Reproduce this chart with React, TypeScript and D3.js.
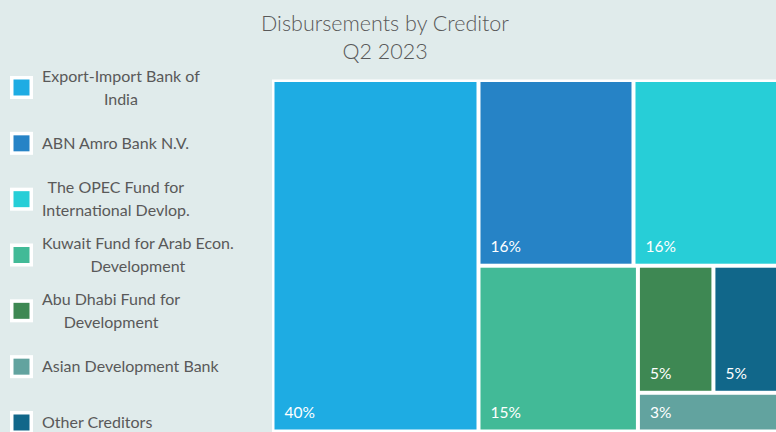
import { useEffect, useRef } from "react";
import * as d3 from "d3";

// Creditors, in the order the legend lists them
const creditors = [
  "Export-Import Bank of India",
  "ABN Amro Bank N.V.",
  "The OPEC Fund for International Devlop.",
  "Kuwait Fund for Arab Econ. Development",
  "Abu Dhabi Fund for Development",
  "Asian Development Bank",
  "Other Creditors",
];

// Legend text as it wraps in the reference
const legendLines = [
  ["Export-Import Bank of", "India"],
  ["ABN Amro Bank N.V."],
  ["The OPEC Fund for", "International Devlop."],
  ["Kuwait Fund for Arab Econ.", "Development"],
  ["Abu Dhabi Fund for", "Development"],
  ["Asian Development Bank"],
  ["Other Creditors"],
];

// Share of disbursements (%), estimated from tile areas
const shares = [40.0, 15.9, 15.8, 14.6, 5.3, 3.2, 5.2];

const colors = [
  "#1eace3",
  "#2683c6",
  "#27ced7",
  "#42ba97",
  "#3e8853",
  "#62a39f",
  "#11678a",
];

const titleLines = ["Disbursements by Creditor", "Q2 2023"];

const WIDTH = 776;
const HEIGHT = 432;
const BG = "#e0ebeb";
const FONT = "Lato, 'Open Sans', sans-serif";
const TEXT = "#595959";

interface Tile {
  name: string;
  value: number;
  color?: string;
  children?: Tile[];
}

export default function App() {
  const svgRef = useRef<SVGSVGElement>(null);

  useEffect(() => {
    document.body.style.margin = "0";
    document.body.style.background = BG;
    if (!svgRef.current) return;

    const svg = d3.select(svgRef.current);
    svg.selectAll("*").remove();

    svg.append("rect").attr("width", WIDTH).attr("height", HEIGHT).attr("fill", BG);

    // title
    svg
      .append("g")
      .selectAll("text")
      .data(titleLines)
      .join("text")
      .attr("x", 385)
      .attr("y", (_, i) => 31 + i * 28)
      .attr("text-anchor", "middle")
      .attr("font-family", FONT)
      .attr("font-size", 21.5)
      .attr("font-weight", 300)
      .attr("fill", TEXT)
      .text((d) => d);

    // legend
    const legendY = d3
      .scalePoint<string>()
      .domain(creditors)
      .range([87.5, 422.5]);
    const lineH = 23;

    const item = svg
      .append("g")
      .selectAll("g")
      .data(creditors)
      .join("g")
      .attr("transform", (d) => `translate(0,${legendY(d)})`);

    item
      .append("rect")
      .attr("x", 10)
      .attr("y", -11.5)
      .attr("width", 23)
      .attr("height", 23)
      .attr("fill", "white");
    item
      .append("rect")
      .attr("x", 13.5)
      .attr("y", -8)
      .attr("width", 16)
      .attr("height", 16)
      .attr("fill", (_, i) => colors[i]);

    item.each(function (_, i) {
      const g = d3.select(this);
      const lines = legendLines[i];
      const texts = g
        .selectAll("text")
        .data(lines)
        .join("text")
        .attr("y", (_, j) => (j - (lines.length - 1) / 2) * lineH + 5.5)
        .attr("font-family", FONT)
        .attr("font-size", 16)
        .attr("fill", TEXT)
        .text((d) => d);
      const widths = texts.nodes().map((n) => (n as SVGTextElement).getComputedTextLength());
      const cx = 42 + (d3.max(widths) ?? 0) / 2;
      texts.attr("x", cx).attr("text-anchor", "middle");
    });

    // treemap (runs off the right edge, as in the reference)
    const x0 = 272;
    const y0 = 79.5;
    const w = 516;
    const h = HEIGHT - y0;

    const root = d3
      .hierarchy<Tile>({
        name: "root",
        value: 0,
        children: creditors.map((c, i) => ({ name: c, value: shares[i], color: colors[i] })),
      })
      .sum((d) => (d.children ? 0 : d.value))
      .sort((a, b) => (b.value ?? 0) - (a.value ?? 0));

    d3
      .treemap<Tile>()
      .tile(d3.treemapSquarify.ratio(1))
      .size([w, h])
      .paddingInner(4)
      .paddingOuter(2.5)(root);

    const tm = svg.append("g").attr("transform", `translate(${x0},${y0})`);
    tm.append("rect").attr("width", w).attr("height", h).attr("fill", "white");

    const leaves = root.leaves() as d3.HierarchyRectangularNode<Tile>[];
    const cell = tm
      .selectAll("g.cell")
      .data(leaves)
      .join("g")
      .attr("class", "cell");

    cell
      .append("rect")
      .attr("x", (d) => d.x0)
      .attr("y", (d) => d.y0)
      .attr("width", (d) => d.x1 - d.x0)
      .attr("height", (d) => d.y1 - d.y0)
      .attr("fill", (d) => d.data.color!);

    cell
      .append("text")
      .attr("x", (d) => d.x0 + 10)
      .attr("y", (d) => d.y1 - 12)
      .attr("font-family", FONT)
      .attr("font-size", 15.5)
      .attr("fill", "white")
      .text((d) => `${Math.round(d.data.value)}%`);
  }, []);

  return (
    <svg
      ref={svgRef}
      width={WIDTH}
      height={HEIGHT}
      style={{ display: "block" }}
    />
  );
}
